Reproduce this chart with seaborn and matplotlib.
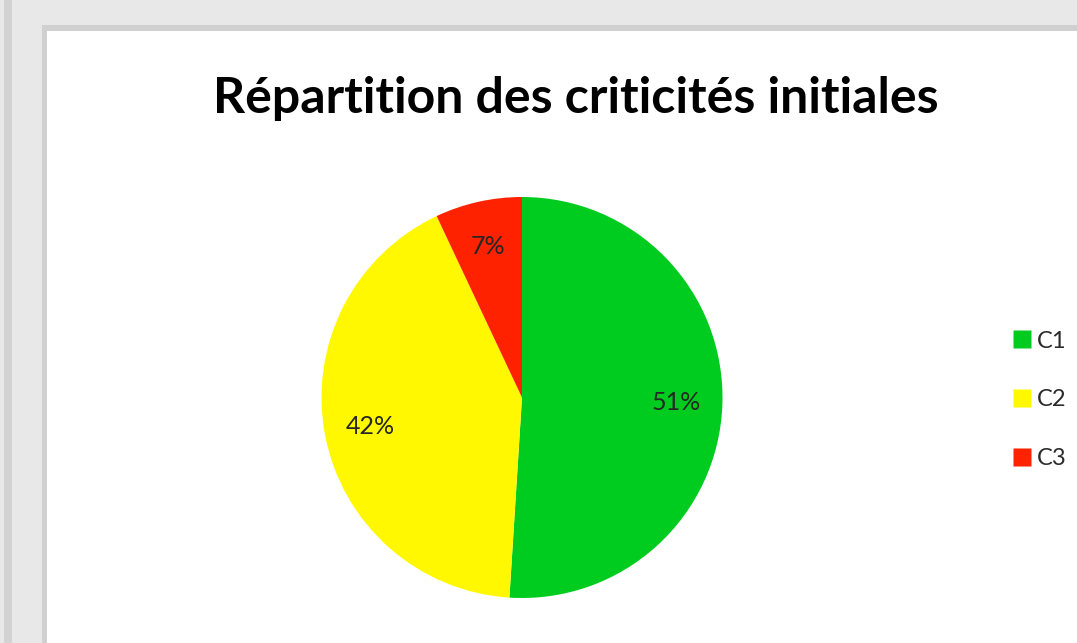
import matplotlib
matplotlib.use('Agg')
import matplotlib.pyplot as plt
from matplotlib.patches import Rectangle
from matplotlib.lines import Line2D
import seaborn as sns
import pandas as pd

# data
categories = ['C1', 'C2', 'C3']
shares = [51, 42, 7]
colors = ['#00CC1F', '#FFF800', '#FF2200']
title = 'Répartition des criticités initiales'

df = pd.DataFrame({'Criticite': categories, 'Part': shares})

sns.set_theme(context='paper', style='white')
plt.rcParams['font.family'] = ['Lato', 'DejaVu Sans']
palette = sns.color_palette(colors)

W, H = 1077, 643
fig = plt.figure(figsize=(W / 100, H / 100), dpi=100, facecolor='#E8E8E8')

# window frame around the chart area
fig.patches.append(Rectangle((4 / W, 0), 8 / W, 1, transform=fig.transFigure,
                             facecolor='#D2D2D2', edgecolor='none', zorder=-3))
fig.patches.append(Rectangle((42 / W, 0), 1 - 42 / W, 1 - 25 / H, transform=fig.transFigure,
                             facecolor='#D0D0D0', edgecolor='none', zorder=-2))
fig.patches.append(Rectangle((47 / W, 0), 1 - 47 / W, 1 - 31 / H, transform=fig.transFigure,
                             facecolor='white', edgecolor='none', zorder=-1))

# pie axes: centre (522, 397) px, radius ~200 px
r = 200.5
pad = 1.05
cx, cy = 522, H - 397.5
ax = fig.add_axes([(cx - r * pad) / W, (cy - r * pad) / H, 2 * r * pad / W, 2 * r * pad / H])
ax.set_zorder(2)
ax.set_facecolor('none')
wedges, texts, autotexts = ax.pie(df['Part'], colors=palette, startangle=90, counterclock=False,
                                  autopct='%1.0f%%', pctdistance=0.77,
                                  wedgeprops={'linewidth': 0},
                                  textprops={'fontsize': 18, 'color': '#262626'})
ax.set_xlim(-pad, pad)
ax.set_ylim(-pad, pad)
ax.set_aspect('equal')
ax.axis('off')

fig.text(576 / W, 1 - 113 / H, title, ha='center', va='baseline',
         fontsize=36, fontweight='bold', color='black', zorder=3)

handles = [Line2D([], [], marker='s', linestyle='none', markersize=12.3,
                  markerfacecolor=c, markeredgecolor='none') for c in palette]
leg = fig.legend(handles, categories, loc='center left', bbox_to_anchor=(1012 / W, 1 - 400 / H),
                 frameon=False, fontsize=17, labelspacing=1.6, handlelength=0.85,
                 handletextpad=0.2, borderpad=0, borderaxespad=0, labelcolor='#2b2b2b')
leg.set_zorder(3)

fig.savefig('out.png', dpi=100, facecolor=fig.get_facecolor())
